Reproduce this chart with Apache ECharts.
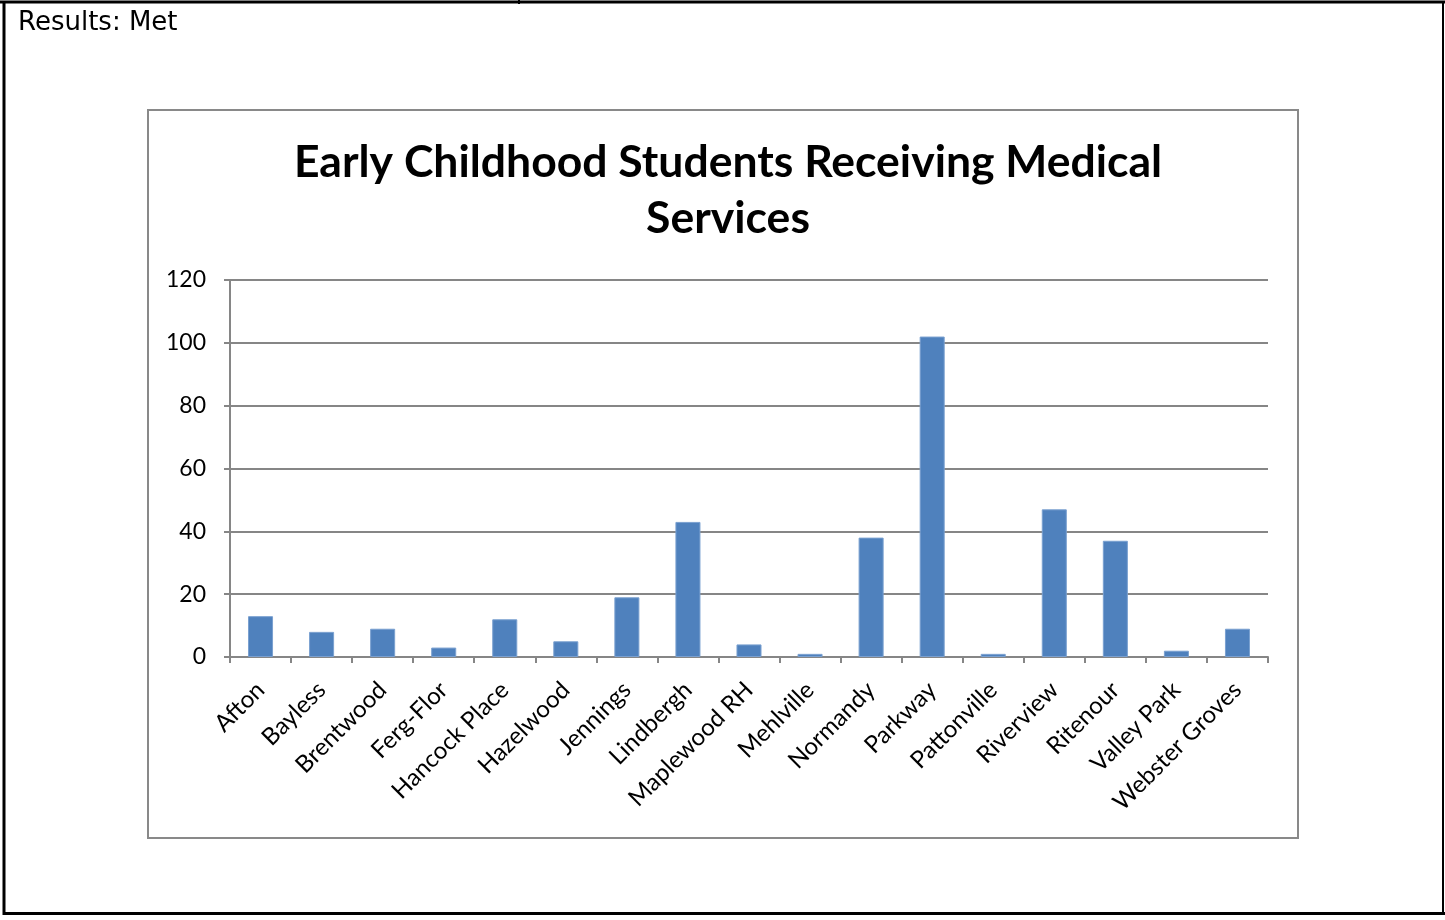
<!DOCTYPE html>
<html>
<head>
<meta charset="utf-8">
<script src="https://cdn.jsdelivr.net/npm/echarts@6/dist/echarts.min.js"></script>
<style>
html,body{margin:0;padding:0;background:#fff;}
#c{width:1445px;height:920px;}
</style>
</head>
<body>
<div id="c"></div>
<script>
const categories = ["Afton","Bayless","Brentwood","Ferg-Flor","Hancock Place","Hazelwood","Jennings","Lindbergh","Maplewood RH","Mehlville","Normandy","Parkway","Pattonville","Riverview","Ritenour","Valley Park","Webster Groves"];
const values = [13,8,9,3,12,5,19,43,4,1,38,102,1,47,37,2,9];
const yTicks = [0,20,40,60,80,100,120];
const titleText = "Early Childhood Students Receiving Medical\nServices";
const headerText = "Results: Met";

const chart = echarts.init(document.getElementById('c'));
chart.setOption({
  animation:false,
  backgroundColor:'#fff',
  title:{
    text:titleText,
    left:723, top:130, textAlign:'center',
    textStyle:{fontFamily:'Lato', fontWeight:'bold', fontSize:44.5, lineHeight:56, color:'#000'}
  },
  graphic:[
    {type:'line', shape:{x1:0,y1:2,x2:1445,y2:2}, style:{stroke:'#000', lineWidth:3}},
    {type:'line', shape:{x1:4,y1:1,x2:4,y2:915}, style:{stroke:'#000', lineWidth:3}},
    {type:'line', shape:{x1:1443,y1:1,x2:1443,y2:915}, style:{stroke:'#000', lineWidth:2}},
    {type:'line', shape:{x1:3,y1:913.5,x2:1445,y2:913.5}, style:{stroke:'#000', lineWidth:3}},
    {type:'line', shape:{x1:519,y1:0,x2:519,y2:4}, style:{stroke:'#000', lineWidth:2}},
    {type:'text', left:18, top:10, style:{text:headerText, fontFamily:'DejaVu Sans', fontSize:26, fill:'#000'}},
    {type:'rect', shape:{x:148,y:110,width:1150,height:728}, style:{fill:'none', stroke:'#898989', lineWidth:2}}
  ],
  grid:{left:230, right:177, top:280, bottom:263},
  xAxis:{
    type:'category', data:categories, boundaryGap:true,
    axisLine:{lineStyle:{color:'#868686', width:2}},
    axisTick:{show:true, alignWithLabel:false, length:6, lineStyle:{color:'#868686', width:2}},
    axisLabel:{rotate:45, interval:0, fontFamily:'Lato', fontSize:24, color:'#000', margin:29}
  },
  yAxis:{
    type:'value', min:0, max:120, interval:20,
    axisLine:{show:true, lineStyle:{color:'#868686', width:2}},
    axisTick:{show:true, length:6, lineStyle:{color:'#868686', width:2}},
    splitLine:{lineStyle:{color:'#868686', width:2}},
    axisLabel:{fontFamily:'Lato', fontSize:23, color:'#000', margin:24,
      formatter:function(v){return yTicks.indexOf(v)>=0?String(v):'';}}
  },
  series:[{
    type:'bar', data:values, barWidth:'41%',
    itemStyle:{color:'#4f81bd', borderColor:'#7aa0d0', borderWidth:1}
  }]
});
</script>
</body>
</html>
